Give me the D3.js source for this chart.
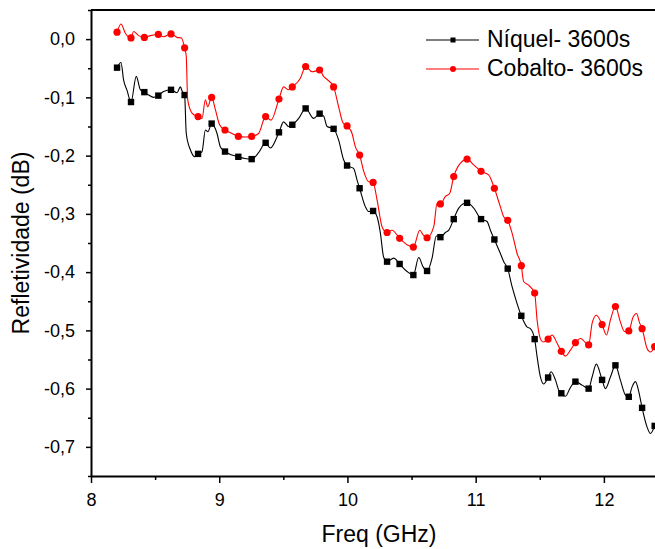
<!DOCTYPE html>
<html>
<head>
<meta charset="utf-8">
<script src="https://cdn.jsdelivr.net/npm/d3@7"></script>
<style>
  body { margin: 0; background: #fff; }
  text { font-family: "Liberation Sans", Arial, sans-serif; fill: #000; }
</style>
</head>
<body>
<div id="chart"></div>
<script>
// marker frequencies (GHz), same for both series
var markFreq = [8.203, 8.312, 8.416, 8.525, 8.624, 8.730, 8.835, 8.941, 9.045, 9.149,
  9.253, 9.362, 9.466, 9.570, 9.674, 9.783, 9.892, 9.997, 10.095, 10.200,
  10.309, 10.407, 10.514, 10.621, 10.725, 10.829, 10.933, 11.042, 11.146, 11.250,
  11.356, 11.460, 11.565, 11.668, 11.778, 11.881, 11.986, 12.090, 12.194, 12.298, 12.396];

// values at the markers (dB)
var niquelMarks = [-0.049, -0.108, -0.091, -0.097, -0.087, -0.096, -0.197, -0.145, -0.193, -0.202,
  -0.206, -0.178, -0.160, -0.147, -0.119, -0.128, -0.154, -0.217, -0.256, -0.295,
  -0.382, -0.386, -0.405, -0.398, -0.340, -0.309, -0.281, -0.309, -0.344, -0.394,
  -0.475, -0.515, -0.581, -0.608, -0.588, -0.600, -0.585, -0.560, -0.614, -0.633, -0.664];

var cobaltoMarks = [0.012, 0.002, 0.003, 0.008, 0.009, -0.015, -0.133, -0.100, -0.156, -0.167,
  -0.167, -0.133, -0.103, -0.082, -0.047, -0.053, -0.082, -0.149, -0.199, -0.246,
  -0.332, -0.342, -0.357, -0.341, -0.283, -0.236, -0.206, -0.227, -0.256, -0.311,
  -0.389, -0.436, -0.515, -0.536, -0.521, -0.525, -0.490, -0.459, -0.501, -0.497, -0.528];

// extra points of the curves between the markers [freq, dB]
var niquelTrace = [[8.234,-0.040],[8.254,-0.070],[8.281,-0.088],[8.353,-0.064],[8.385,-0.087],
  [8.450,-0.096],[8.488,-0.100],[8.566,-0.090],[8.671,-0.092],[8.697,-0.082],[8.712,-0.090],
  [8.743,-0.162],[8.775,-0.190],[8.810,-0.202],[8.866,-0.193],[8.892,-0.156],[8.912,-0.159],
  [8.983,-0.162],[9.009,-0.185],[9.100,-0.199],[9.200,-0.205],[9.307,-0.195],[9.399,-0.187],
  [9.502,-0.142],[9.541,-0.150],[9.620,-0.136],[9.737,-0.136],[9.814,-0.132],[9.841,-0.150],
  [9.931,-0.173],[9.970,-0.207],[10.048,-0.222],[10.075,-0.242],[10.140,-0.288],[10.166,-0.296],
  [10.231,-0.305],[10.257,-0.333],[10.282,-0.374],[10.361,-0.376],[10.465,-0.399],
  [10.556,-0.375],[10.590,-0.391],[10.660,-0.376],[10.693,-0.338],[10.764,-0.332],[10.790,-0.328],
  [10.868,-0.290],[10.985,-0.290],[11.089,-0.313],[11.115,-0.328],[11.187,-0.365],[11.219,-0.382],
  [11.284,-0.425],[11.323,-0.454],[11.400,-0.494],[11.427,-0.497],[11.479,-0.545],[11.505,-0.580],
  [11.530,-0.592],[11.588,-0.571],[11.622,-0.585],[11.648,-0.603],[11.700,-0.613],[11.739,-0.598],
  [11.830,-0.594],[11.908,-0.580],[11.941,-0.558],[12.012,-0.600],[12.051,-0.580],
  [12.128,-0.585],[12.168,-0.611],[12.220,-0.597],[12.246,-0.588],[12.272,-0.605],
  [12.337,-0.666],[12.363,-0.677]];

var cobaltoTrace = [[8.234,0.026],[8.268,0.010],[8.332,0.013],[8.371,0.006],[8.463,0.006],
  [8.566,0.004],[8.671,0.003],[8.705,0.002],[8.743,-0.030],[8.754,-0.104],[8.788,-0.127],
  [8.866,-0.136],[8.892,-0.104],[8.910,-0.116],[8.970,-0.121],[9.003,-0.147],[9.100,-0.162],
  [9.204,-0.168],[9.307,-0.162],[9.404,-0.139],[9.502,-0.082],[9.541,-0.087],[9.633,-0.067],
  [9.724,-0.056],[9.814,-0.064],[9.845,-0.070],[9.931,-0.116],[9.966,-0.144],[10.036,-0.162],
  [10.062,-0.185],[10.127,-0.227],[10.166,-0.245],[10.231,-0.276],[10.270,-0.322],[10.348,-0.328],
  [10.465,-0.353],[10.564,-0.328],[10.590,-0.336],[10.673,-0.322],[10.699,-0.282],[10.764,-0.270],
  [10.797,-0.265],[10.881,-0.213],[10.985,-0.216],[11.101,-0.233],[11.193,-0.288],[11.219,-0.305],
  [11.284,-0.333],[11.323,-0.368],[11.374,-0.416],[11.410,-0.422],[11.479,-0.482],[11.510,-0.517],
  [11.530,-0.520],[11.596,-0.508],[11.635,-0.522],[11.700,-0.544],[11.739,-0.534],[11.817,-0.514],
  [11.908,-0.488],[11.941,-0.474],[12.020,-0.508],[12.051,-0.482],[12.128,-0.485],[12.160,-0.502],
  [12.228,-0.477],[12.254,-0.471],[12.280,-0.488],[12.337,-0.531],[12.363,-0.537]];

var seriesNames = ["Níquel- 3600s", "Cobalto- 3600s"];
var xTicks = [8, 9, 10, 11, 12];
var xMinor = [8.5, 9.5, 10.5, 11.5, 12.5];
var yTicks = [0, -0.1, -0.2, -0.3, -0.4, -0.5, -0.6, -0.7];
var yMinor = [0.05, -0.05, -0.15, -0.25, -0.35, -0.45, -0.55, -0.65, -0.75];

var margin = {top: 10, right: -13, bottom: 73, left: 91},
    width = 655 - margin.left - margin.right,
    height = 549 - margin.top - margin.bottom;

var svg = d3.select("#chart")
  .append("svg")
    .attr("width", 655)
    .attr("height", 549)
  .append("g")
    .attr("transform", "translate(" + margin.left + "," + margin.top + ")");

var x = d3.scaleLinear().domain([8, 12.5]).range([0, width]);
var y = d3.scaleLinear().domain([-0.75, 0.05]).range([height, 0]);

// comma decimals, plain hyphen
var fmt = function(d) { return d3.format(".1f")(d).replace("−", "-").replace(".", ","); };

// minor ticks
svg.append("g")
  .attr("transform", "translate(0," + height + ")")
  .call(d3.axisBottom(x).tickValues(xMinor).tickSize(4).tickFormat(""))
  .call(g => g.select(".domain").remove());
svg.append("g")
  .call(d3.axisLeft(y).tickValues(yMinor).tickSize(3).tickFormat(""))
  .call(g => g.select(".domain").remove());

// major axes
var xAxis = svg.append("g")
  .attr("transform", "translate(0," + height + ")")
  .call(d3.axisBottom(x).tickValues(xTicks).tickSize(7).tickPadding(10).tickSizeOuter(0).tickFormat(d3.format("d")));
var yAxis = svg.append("g")
  .call(d3.axisLeft(y).tickValues(yTicks).tickSize(5).tickPadding(11).tickSizeOuter(0).tickFormat(fmt));

svg.selectAll(".tick line").attr("stroke", "#000").attr("stroke-width", 1.5);
svg.selectAll(".domain").attr("stroke", "#000").attr("stroke-width", 2);
svg.selectAll(".tick text").style("font-size", "18px").style("font-family", "'Liberation Sans', Arial, sans-serif");

// top and right frame
svg.append("line").attr("x1", 0).attr("x2", width).attr("y1", 0).attr("y2", 0)
  .attr("stroke", "#000").attr("stroke-width", 2);
svg.append("line").attr("x1", width).attr("x2", width).attr("y1", 0).attr("y2", height)
  .attr("stroke", "#000").attr("stroke-width", 2);

// build line data: markers + trace points, sorted by freq
function buildLine(marks, trace) {
  var pts = markFreq.map(function(f, i) { return [f, marks[i]]; }).concat(trace);
  pts.sort(function(a, b) { return a[0] - b[0]; });
  return pts;
}

var line = d3.line()
  .x(function(d) { return x(d[0]); })
  .y(function(d) { return y(d[1]); })
  .curve(d3.curveMonotoneX);

var series = [
  {name: seriesNames[0], marks: niquelMarks, trace: niquelTrace, color: "#000000", shape: "square"},
  {name: seriesNames[1], marks: cobaltoMarks, trace: cobaltoTrace, color: "#ff0000", shape: "circle"}
];

series.forEach(function(s) {
  svg.append("path")
    .datum(buildLine(s.marks, s.trace))
    .attr("fill", "none")
    .attr("stroke", s.color)
    .attr("stroke-width", 1.1)
    .attr("d", line);

  var pts = markFreq.map(function(f, i) { return [f, s.marks[i]]; });
  if (s.shape == "square") {
    svg.append("g").selectAll("rect")
      .data(pts).enter().append("rect")
        .attr("x", function(d) { return x(d[0]) - 3.2; })
        .attr("y", function(d) { return y(d[1]) - 3.2; })
        .attr("width", 6.4).attr("height", 6.4)
        .attr("fill", s.color);
  } else {
    svg.append("g").selectAll("circle")
      .data(pts).enter().append("circle")
        .attr("cx", function(d) { return x(d[0]); })
        .attr("cy", function(d) { return y(d[1]); })
        .attr("r", 3.6)
        .attr("fill", s.color);
  }
});

// legend
var legend = svg.append("g").attr("transform", "translate(" + (426 - margin.left) + "," + (40 - margin.top) + ")");
series.forEach(function(s, i) {
  var g = legend.append("g").attr("transform", "translate(0," + (i * 29) + ")");
  g.append("line").attr("x1", 0).attr("x2", 53).attr("y1", 0).attr("y2", 0)
    .attr("stroke", s.color).attr("stroke-width", 1.1);
  if (s.shape == "square") {
    g.append("rect").attr("x", 24.5).attr("y", -2.5).attr("width", 5).attr("height", 5).attr("fill", s.color);
  } else {
    g.append("circle").attr("cx", 27).attr("cy", 0).attr("r", 3).attr("fill", s.color);
  }
  g.append("text").attr("x", 61).attr("y", 7)
    .style("font-size", "23px")
    .text(s.name);
});

// axis titles
svg.append("text")
  .attr("x", 379 - margin.left)
  .attr("y", 542 - margin.top)
  .attr("text-anchor", "middle")
  .style("font-size", "23px")
  .text("Freq (GHz)");

svg.append("text")
  .attr("transform", "translate(" + (29 - margin.left) + "," + (243 - margin.top) + ") rotate(-90)")
  .attr("text-anchor", "middle")
  .style("font-size", "23px")
  .text("Refletividade (dB)");
</script>
</body>
</html>
